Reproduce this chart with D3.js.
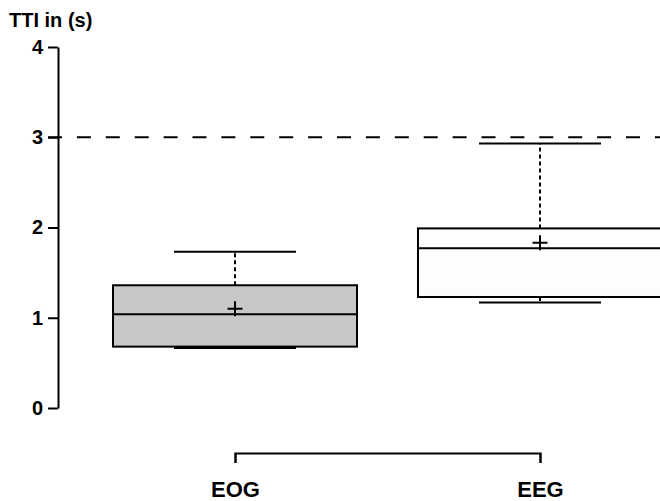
<!DOCTYPE html>
<html>
<head>
<meta charset="utf-8">
<script src="https://cdn.jsdelivr.net/npm/d3@7"></script>
<style>
  body { margin: 0; background: #fff; }
  text { font-family: "Liberation Sans", Arial, sans-serif; font-weight: bold; fill: #000; }
</style>
</head>
<body>
<script>
//Width and height
var w = 660;
var h = 501;

//Data
var groups = ["EOG", "EEG"];
var whiskerLow = [0.665, 1.17];
var q1 = [0.68, 1.23];
var median = [1.04, 1.77];
var q3 = [1.36, 1.99];
var whiskerHigh = [1.73, 2.93];
var means = [1.10, 1.83];
var fills = ["#c8c9c6", "#fdfdfd"];
var yTicks = [0, 1, 2, 3, 4];
var refValue = 3;

//Scales
var y = d3.scaleLinear()
          .domain([0, 4])
          .range([408, 47]);

var x = d3.scalePoint()
          .domain(groups)
          .range([235, 540]);

var boxW = x.step() * 0.8;
var capW = boxW / 2;

//Create SVG element
var svg = d3.select("body")
            .append("svg")
            .attr("width", w)
            .attr("height", h);

//Title
svg.append("text")
   .attr("x", 9)
   .attr("y", 27)
   .attr("font-size", 20)
   .text("TTI in (s)");

//Reference line
svg.append("line")
   .attr("x1", 48)
   .attr("x2", w)
   .attr("y1", y(refValue))
   .attr("y2", y(refValue))
   .attr("stroke", "#000")
   .attr("stroke-width", 2)
   .attr("stroke-dasharray", "14,14.9");

//Boxes
var box = svg.selectAll("g.box")
   .data(groups)
   .enter()
   .append("g")
   .attr("class", "box");

//whiskers (dotted)
box.append("line")
   .attr("x1", function(d) { return x(d); })
   .attr("x2", function(d) { return x(d); })
   .attr("y1", function(d, i) { return y(q3[i]); })
   .attr("y2", function(d, i) { return y(whiskerHigh[i]); })
   .attr("stroke", "#000").attr("stroke-width", 2)
   .attr("stroke-dasharray", "4,3");

box.append("line")
   .attr("x1", function(d) { return x(d); })
   .attr("x2", function(d) { return x(d); })
   .attr("y1", function(d, i) { return y(q1[i]); })
   .attr("y2", function(d, i) { return y(whiskerLow[i]); })
   .attr("stroke", "#000").attr("stroke-width", 2)
   .attr("stroke-dasharray", "4,3");

//caps
box.append("line")
   .attr("x1", function(d) { return x(d) - capW / 2; })
   .attr("x2", function(d) { return x(d) + capW / 2; })
   .attr("y1", function(d, i) { return y(whiskerHigh[i]); })
   .attr("y2", function(d, i) { return y(whiskerHigh[i]); })
   .attr("stroke", "#000").attr("stroke-width", 2);

box.append("line")
   .attr("x1", function(d) { return x(d) - capW / 2; })
   .attr("x2", function(d) { return x(d) + capW / 2; })
   .attr("y1", function(d, i) { return y(whiskerLow[i]); })
   .attr("y2", function(d, i) { return y(whiskerLow[i]); })
   .attr("stroke", "#000").attr("stroke-width", 2);

//box body
box.append("rect")
   .attr("x", function(d) { return x(d) - boxW / 2; })
   .attr("width", boxW)
   .attr("y", function(d, i) { return y(q3[i]); })
   .attr("height", function(d, i) { return y(q1[i]) - y(q3[i]); })
   .attr("fill", function(d, i) { return fills[i]; })
   .attr("stroke", "#000").attr("stroke-width", 2);

//median
box.append("line")
   .attr("x1", function(d) { return x(d) - boxW / 2; })
   .attr("x2", function(d) { return x(d) + boxW / 2; })
   .attr("y1", function(d, i) { return y(median[i]); })
   .attr("y2", function(d, i) { return y(median[i]); })
   .attr("stroke", "#000").attr("stroke-width", 2);

//mean marker (+)
box.append("path")
   .attr("d", function(d, i) {
       var cx = x(d), cy = y(means[i]), s = 7.5;
       return "M" + (cx - s) + "," + cy + "H" + (cx + s) +
              "M" + cx + "," + (cy - s) + "V" + (cy + s);
   })
   .attr("stroke", "#000").attr("stroke-width", 2)
   .attr("fill", "none");

//Y axis
var yAxis = svg.append("g")
   .attr("transform", "translate(58,0)")
   .call(d3.axisLeft(y)
           .tickValues(yTicks)
           .tickFormat(d3.format("d"))
           .tickSize(10)
           .tickSizeOuter(0)
           .tickPadding(5));

yAxis.attr("font-family", null).attr("font-size", null);
yAxis.selectAll("path, line").attr("stroke", "#000").attr("stroke-width", 2);
yAxis.selectAll("text").attr("font-size", 20);

//Category bracket axis
var xAxis = svg.append("g")
   .attr("transform", "translate(0,453)")
   .call(d3.axisBottom(x).tickSize(10).tickSizeOuter(10));

xAxis.attr("font-family", null).attr("font-size", null);
xAxis.selectAll("path, line").attr("stroke", "#000").attr("stroke-width", 2);
xAxis.selectAll("text")
     .attr("font-size", 22)
     .attr("y", 44)
     .attr("dy", null);
</script>
</body>
</html>
